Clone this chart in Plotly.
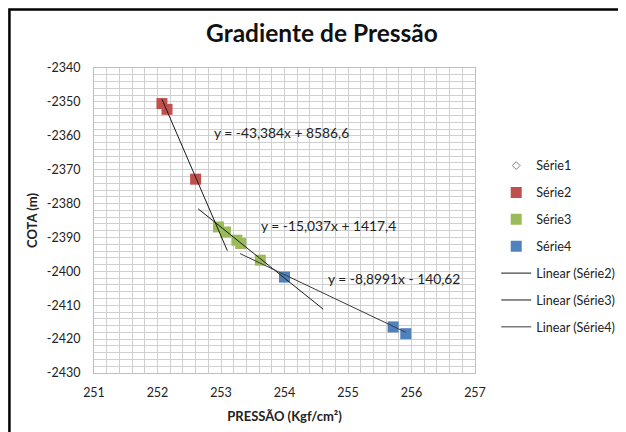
import plotly.graph_objects as go

# Data
s2_x = [252.07, 252.15, 252.60]
s2_y = [-2350.5, -2352.2, -2372.8]
s3_x = [252.96, 253.07, 253.25, 253.31, 253.62]
s3_y = [-2386.9, -2388.4, -2390.8, -2391.8, -2396.7]
s4_x = [254.00, 255.71, 255.91]
s4_y = [-2401.7, -2416.4, -2418.4]
s1_x = s2_x + s3_x + s4_x
s1_y = s2_y + s3_y + s4_y

# Trendlines (slope, intercept, x range)
tr2 = (-43.384, 8586.6, [252.07, 253.10])
tr3 = (-15.037, 1417.4, [252.64, 254.61])
tr4 = (-8.8991, -140.62, [253.30, 255.91])
eq_labels = ["y = -43,384x + 8586,6", "y = -15,037x + 1417,4", "y = -8,8991x - 140,62"]

x_ticks = [251, 252, 253, 254, 255, 256, 257]
y_ticks = [-2340, -2350, -2360, -2370, -2380, -2390, -2400, -2410, -2420, -2430]

FONT = "Lato, 'Open Sans', sans-serif"

fig = go.Figure()
fig.add_trace(go.Scatter(x=s1_x, y=s1_y, mode="markers", name="Série1", legendgroup="a",
                         marker=dict(symbol="diamond-open", size=6, color="#808080", line=dict(width=1))))
for nm, xs, ys, col, g in [("Série2", s2_x, s2_y, "#C0504D", "b"),
                           ("Série3", s3_x, s3_y, "#9BBB59", "c"),
                           ("Série4", s4_x, s4_y, "#4F81BD", "d")]:
    fig.add_trace(go.Scatter(x=xs, y=ys, mode="markers", name=nm, legendgroup=g,
                             marker=dict(symbol="square", size=11, color=col,
                                         line=dict(width=0))))

for nm, tr, col, g in [("Linear (Série2)", tr2, "#1a1a1a", "e"),
                       ("Linear (Série3)", tr3, "#1a1a1a", "f"),
                       ("Linear (Série4)", tr4, "#3a3a3a", "g")]:
    a, b, xr = tr
    fig.add_trace(go.Scatter(x=xr, y=[a * xr[0] + b, a * xr[1] + b], mode="lines", name=nm,
                             legendgroup=g, line=dict(color=col, width=1)))

ann = []
eq_xy = [(253.96, -2359.0), (254.70, -2386.5), (255.73, -2402.0)]
for (ex, ey), lab in zip(eq_xy, eq_labels):
    ann.append(dict(x=ex, y=ey, xref="x", yref="y", text=lab, showarrow=False,
                    font=dict(family=FONT, size=13.8, color="#222")))

# The page body has an 8px margin, so the figure is 8px smaller and offset.
fig.update_layout(
    width=618, height=424,
    margin=dict(l=86, r=151, t=60, b=59, autoexpand=False),
    paper_bgcolor="white", plot_bgcolor="white",
    title=dict(text="<b>Gradiente de Pressão</b>", x=0.508, xanchor="center", y=0.94, yanchor="middle",
               font=dict(family=FONT, size=24.5, color="#111")),
    font=dict(family=FONT, size=12.5, color="#222"),
    xaxis=dict(range=[251, 257], tickvals=x_ticks, ticktext=[str(v) for v in x_ticks],
               showgrid=True, gridcolor="#cfcfcf", gridwidth=1,
               minor=dict(dtick=0.2, showgrid=True, gridcolor="#cfcfcf", gridwidth=1),
               showline=True, linecolor="#bfbfbf", mirror=True, zeroline=False, ticks="",
               ticklabelstandoff=8, automargin=False,
               title=dict(text="<b>PRESSÃO (Kgf/cm²)</b>", font=dict(family=FONT, size=13), standoff=12)),
    yaxis=dict(range=[-2430, -2340], tickvals=y_ticks, ticktext=[str(v) for v in y_ticks],
               showgrid=True, gridcolor="#cfcfcf", gridwidth=1,
               minor=dict(dtick=2, showgrid=True, gridcolor="#cfcfcf", gridwidth=1),
               showline=True, linecolor="#bfbfbf", mirror=True, zeroline=False, ticks="",
               ticklabelstandoff=10, automargin=False,
               title=dict(text="<b>COTA (m)</b>", font=dict(family=FONT, size=13), standoff=6)),
    legend=dict(xref="container", yref="container", x=0.79, xanchor="left", y=0.663, yanchor="top",
                tracegroupgap=7.5,
                font=dict(family=FONT, size=12.6, color="#222"), bgcolor="rgba(0,0,0,0)"),
    annotations=ann,
    shapes=[dict(type="rect", xref="paper", yref="paper", x0=-0.222, x1=2.0, y0=-1.0, y1=1.1918,
                 line=dict(color="black", width=2.5), fillcolor="rgba(0,0,0,0)", layer="above")],
)

fig.write_html("out.html")
